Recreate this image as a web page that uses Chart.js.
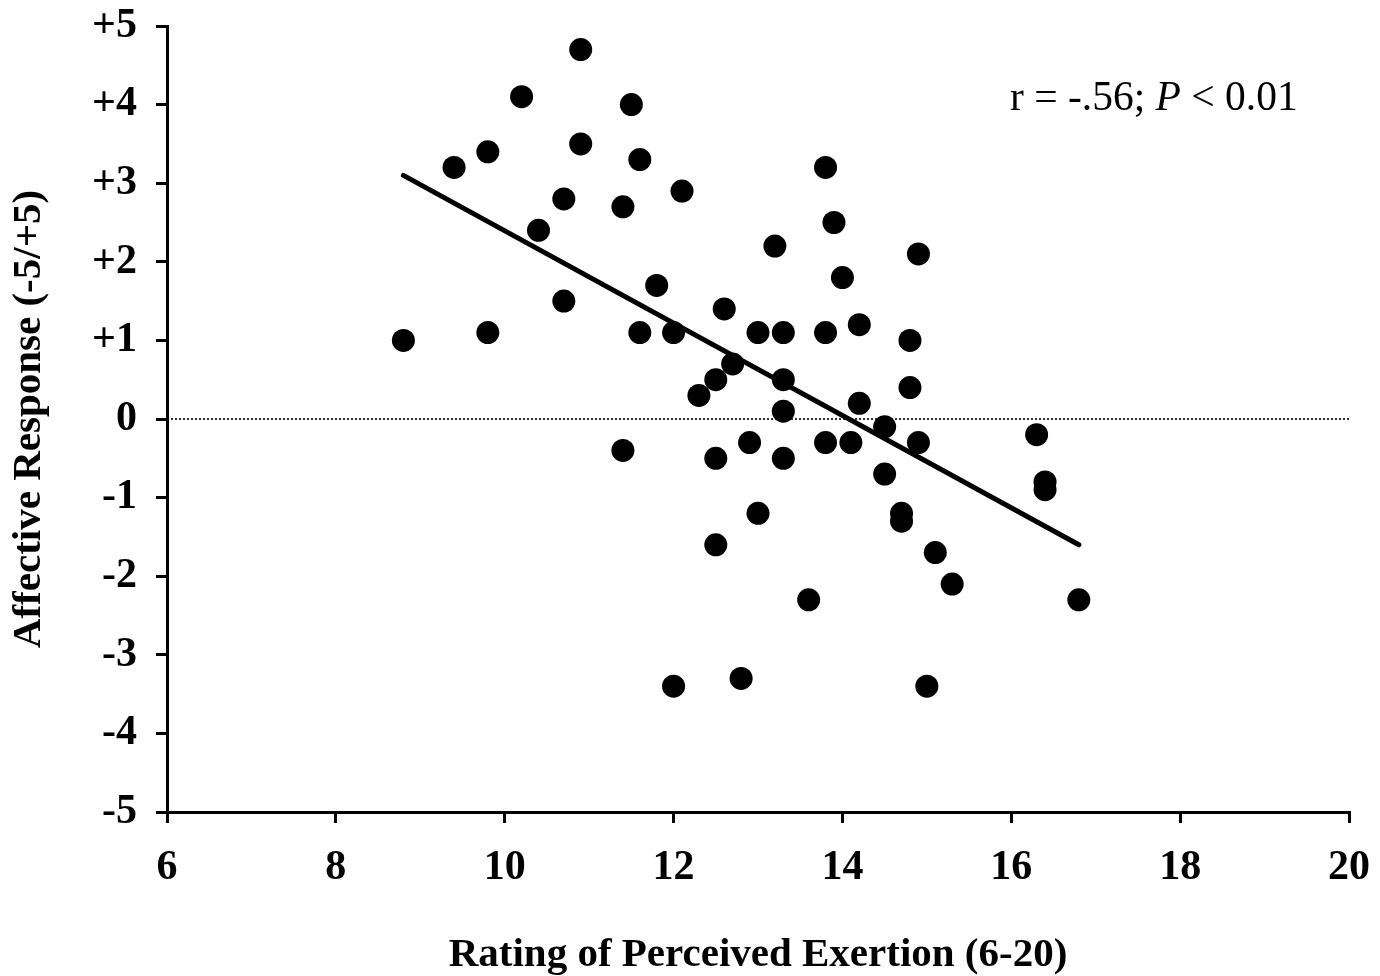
<!DOCTYPE html>
<html><head><meta charset="utf-8">
<script src="https://cdn.jsdelivr.net/npm/chart.js@4.4.1/dist/chart.umd.min.js"></script>
<style>html,body{margin:0;padding:0;background:#fff}</style>
</head><body>
<div style="width:1380px;height:976px"><canvas id="c" width="1380" height="976"></canvas></div>
<script>
const rpe = [8.8, 9.4, 9.8, 9.8, 10.2, 10.4, 10.7, 10.7, 10.9, 10.9, 11.4, 11.4, 11.5, 11.6, 11.6, 11.8, 12.0, 12.0, 12.1, 12.3, 12.5, 12.5, 12.5, 12.6, 12.7, 12.8, 12.9, 13.0, 13.0, 13.2, 13.3, 13.3, 13.3, 13.3, 13.6, 13.8, 13.8, 13.8, 13.9, 14.0, 14.1, 14.2, 14.2, 14.5, 14.5, 14.7, 14.7, 14.8, 14.8, 14.9, 14.9, 15.0, 15.1, 15.3, 16.3, 16.4, 16.4, 16.8];
const affect = [1.0, 3.2, 3.4, 1.1, 4.1, 2.4, 2.8, 1.5, 4.7, 3.5, 2.7, -0.4, 4.0, 3.3, 1.1, 1.7, 1.1, -3.4, 2.9, 0.3, 0.5, -0.5, -1.6, 1.4, 0.7, -3.3, -0.3, 1.1, -1.2, 2.2, 1.1, 0.5, 0.1, -0.5, -2.3, 3.2, 1.1, -0.3, 2.5, 1.8, -0.3, 1.2, 0.2, -0.1, -0.7, -1.2, -1.3, 1.0, 0.4, 2.1, -0.3, -3.4, -1.7, -2.1, -0.2, -0.8, -0.9, -2.3];
const fitX = [8.8, 16.8];
const fitY = [3.1, -1.6];
const zeroX = [6, 20];
const zeroY = [0, 0];
const xTicks = [6, 8, 10, 12, 14, 16, 18, 20];
const yTicks = [5, 4, 3, 2, 1, 0, -1, -2, -3, -4, -5];
const yTickLabels = ['+5', '+4', '+3', '+2', '+1', '0', '-1', '-2', '-3', '-4', '-5'];
const xTitle = 'Rating of Perceived Exertion (6-20)';
const yTitle = 'Affective Response (-5/+5)';
const noteParts = [['r = -.56; ', 'normal'], ['P', 'italic'], [' < 0.01', 'normal']];

const SERIF = "'Liberation Serif', 'Times New Roman', Times, serif";

const notePlugin = {
  id: 'note',
  afterDraw(chart) {
    const ctx = chart.ctx;
    ctx.save();
    ctx.fillStyle = '#000';
    ctx.textBaseline = 'alphabetic';
    ctx.textAlign = 'left';
    let x = 1010;
    const y = 110;
    for (const [t, st] of noteParts) {
      ctx.font = st + ' 41.5px ' + SERIF;
      ctx.fillText(t, x, y);
      x += ctx.measureText(t).width;
    }
    ctx.restore();
  }
};

new Chart(document.getElementById('c'), {
  type: 'scatter',
  data: {
    datasets: [
      {
        type: 'line',
        data: zeroX.map((x, i) => ({x, y: zeroY[i]})),
        borderColor: '#000',
        borderWidth: 1.6,
        borderDash: [2, 2],
        pointRadius: 0,
        fill: false
      },
      {
        type: 'line',
        data: fitX.map((x, i) => ({x, y: fitY[i]})),
        borderColor: '#000',
        borderWidth: 5,
        borderCapStyle: 'round',
        pointRadius: 0,
        fill: false
      },
      {
        data: rpe.map((x, i) => ({x, y: affect[i]})),
        backgroundColor: '#000',
        borderColor: '#000',
        borderWidth: 0,
        pointRadius: 11.5,
        pointHoverRadius: 11.5
      }
    ]
  },
  options: {
    responsive: false,
    animation: false,
    events: [],
    layout: { padding: { left: 0, right: 31, top: 26, bottom: 0 } },
    plugins: { legend: { display: false }, tooltip: { enabled: false } },
    scales: {
      x: {
        type: 'linear',
        min: 6, max: 20,
        afterFit(s) { s.height = 164; s.paddingLeft = 0; s.paddingRight = 0; },
        afterBuildTicks(s) { s.ticks = xTicks.map(v => ({value: v})); },
        border: { display: true, color: '#000', width: 3 },
        grid: { drawOnChartArea: false, drawTicks: true, tickLength: 11, color: '#000', lineWidth: 3 },
        ticks: { color: '#000', padding: 20, maxRotation: 0, font: { family: SERIF, size: 42, weight: 'bold' } },
        title: { display: true, text: xTitle, color: '#000', padding: { top: 0, bottom: -4 }, font: { family: SERIF, size: 41, weight: 'bold' } }
      },
      y: {
        type: 'linear',
        min: -5, max: 5,
        afterFit(s) { s.width = 167; s.paddingTop = 0; s.paddingBottom = 0; },
        afterBuildTicks(s) { s.ticks = yTicks.map(v => ({value: v})); },
        border: { display: true, color: '#000', width: 3 },
        grid: { drawOnChartArea: false, drawTicks: true, tickLength: 11, color: '#000', lineWidth: 3 },
        ticks: {
          color: '#000', padding: 19,
          font: { family: SERIF, size: 42, weight: 'bold' },
          callback(v) { const i = yTicks.indexOf(v); return i >= 0 ? yTickLabels[i] : ''; }
        },
        title: { display: true, text: yTitle, color: '#000', padding: { top: 5, bottom: 0 }, font: { family: SERIF, size: 41, weight: 'bold' } }
      }
    }
  },
  plugins: [notePlugin]
});
</script>
</body></html>
